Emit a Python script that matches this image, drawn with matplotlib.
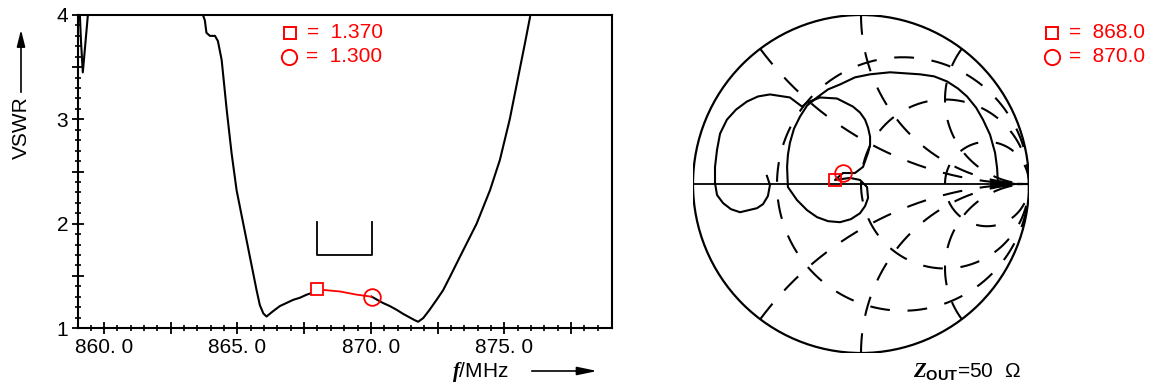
import numpy as np
import matplotlib
matplotlib.use("Agg")
import matplotlib.pyplot as plt
from matplotlib.patches import Circle

plt.rcParams['font.family'] = ['Liberation Sans', 'DejaVu Sans']
plt.rcParams['mathtext.fontset'] = 'custom'
plt.rcParams['mathtext.it'] = 'Liberation Serif:italic:bold'
plt.rcParams['mathtext.rm'] = 'Liberation Sans'
plt.rcParams['mathtext.bf'] = 'Liberation Sans:bold'

W, H = 1159, 387
RED = "#ff0000"

# VSWR ueber Frequenz
FREQ_DIP = [859.10, 859.14, 859.21, 859.30, 859.40]
VSWR_DIP = [4.00, 3.76, 3.45, 3.71, 4.00]

FREQ = [863.71, 863.78, 863.84, 863.97, 864.16, 864.27, 864.41, 864.60, 864.78,
        864.97, 865.22, 865.47, 865.72, 865.84, 865.97,
        866.09, 866.33, 866.59, 866.84, 867.09, 867.34, 867.60, 867.84, 868.00,
        868.84, 869.46, 870.03, 870.45, 870.71, 870.96, 871.21, 871.46, 871.64,
        871.77, 871.96, 872.20, 872.46, 872.70, 872.96, 873.33, 873.96, 874.46,
        874.83, 875.20, 875.52, 875.77, 875.96]
VSWR = [4.00, 3.95, 3.83, 3.80, 3.80, 3.75, 3.57, 3.09, 2.68,
        2.32, 2.00, 1.68, 1.36, 1.22, 1.14,
        1.11, 1.16, 1.21, 1.24, 1.27, 1.29, 1.32, 1.34, 1.37,
        1.35, 1.32, 1.30, 1.24, 1.21, 1.175, 1.135, 1.10, 1.075,
        1.06, 1.095, 1.175, 1.27, 1.36, 1.49, 1.68, 2.00, 2.32,
        2.61, 3.00, 3.41, 3.73, 3.98]
MARK_F = [868.0, 870.03]
MARK_V = [1.37, 1.30]
BRACKET_F = [868.0, 870.03]
BRACKET_V = [2.02, 1.70]

X_TICKS = [860, 862.5, 865, 867.5, 870, 872.5, 875, 877.5]
X_LABELS = ["860. 0", "", "865. 0", "", "870. 0", "", "875. 0", ""]
Y_TICKS = [1, 1.5, 2, 2.5, 3, 3.5, 4]
Y_LABELS = ["1", "", "2", "", "3", "", "4"]

# Smith-Diagramm: Gitter und Ortskurve (Reflexionsfaktor)
R_CIRCLES = [1/3, 1, 3]
X_ARCS = [0.5, 1, 2, -0.5, -1, -2]

GAMMA_RE = [0.815, 0.810, 0.798, 0.768, 0.726, 0.685, 0.631, 0.577, 0.512, 0.435,
            0.351, 0.173, 0.054, -0.036, -0.125, -0.196, -0.262, -0.321, -0.363,
            -0.399, -0.423, -0.435, -0.440, -0.435,
            -0.381, -0.321, -0.262, -0.196, -0.125, -0.060, -0.006, 0.024, 0.042,
            0.036, -0.006,
            -0.065, -0.155, -0.107, -0.036, 0.012,
            0.042, 0.054, 0.054, 0.042, 0.024, -0.006, -0.048, -0.143, -0.244,
            -0.321, -0.351,
            -0.423, -0.542, -0.613, -0.679, -0.744, -0.798, -0.839, -0.857,
            -0.869, -0.869, -0.857, -0.821, -0.774, -0.720, -0.619, -0.583,
            -0.554, -0.542, -0.560]
GAMMA_IM = [0.006, 0.095, 0.185, 0.292, 0.381, 0.452, 0.518, 0.565, 0.607, 0.637,
            0.649, 0.661, 0.649, 0.631, 0.589, 0.560, 0.512, 0.464, 0.399,
            0.327, 0.244, 0.173, 0.101, -0.018,
            -0.095, -0.155, -0.196, -0.220, -0.226, -0.208, -0.173, -0.131, -0.083,
            -0.018, 0.024,
            0.036, 0.024, 0.065, 0.065, 0.101,
            0.185, 0.232, 0.280, 0.333, 0.381, 0.423, 0.458, 0.506, 0.512,
            0.482, 0.458,
            0.512, 0.530, 0.518, 0.488, 0.440, 0.381, 0.298, 0.202,
            0.101, 0.006, -0.065, -0.113, -0.149, -0.167, -0.143, -0.119,
            -0.071, -0.006, 0.048]
SQ_IDX = 36
CI_IDX = 37

fig = plt.figure(figsize=(W / 100, H / 100), dpi=100)

def fx(px):
    return px / W

def fy(py):
    return 1 - py / H

def legend_row(x, y, marker, ms, text):
    fig.add_artist(plt.Line2D([fx(x)], [fy(y)], marker=marker, ms=ms, mfc="none",
                              mec=RED, mew=1.4, ls="none"))
    fig.text(fx(x + 17), fy(y), text, color=RED, fontsize=15, va="center")

# ---------- linkes Diagramm: VSWR ----------
ax = fig.add_axes([fx(78), fy(328), fx(612) - fx(78), fy(15) - fy(328)])
ax.plot(FREQ_DIP, VSWR_DIP, color="black", lw=1.5)
i0, i1 = FREQ.index(868.0), FREQ.index(870.03)
ax.plot(FREQ[:i0 + 1], VSWR[:i0 + 1], color="black", lw=1.5)
ax.plot(FREQ[i1:], VSWR[i1:], color="black", lw=1.5)
ax.plot(FREQ[i0:i1 + 1], VSWR[i0:i1 + 1], color=RED, lw=1.3)
ax.plot(MARK_F[0], MARK_V[0], marker="s", ms=8.5, mfc="white", mec=RED, mew=1.3)
ax.plot(MARK_F[1], MARK_V[1], marker="o", ms=12, mfc="none", mec=RED, mew=1.3)
ax.plot([BRACKET_F[0], BRACKET_F[0], BRACKET_F[1], BRACKET_F[1]],
        [BRACKET_V[0], BRACKET_V[1], BRACKET_V[1], BRACKET_V[0]],
        color="black", lw=1.3)

ax.set_xlim(859.03, 879.03)
ax.set_ylim(1, 4)
ax.set_xticks(X_TICKS)
ax.set_xticklabels(X_LABELS)
ax.set_xticks(np.arange(859.5, 879, 0.5), minor=True)
ax.set_yticks(Y_TICKS)
ax.set_yticklabels(Y_LABELS)
ax.set_yticks(np.arange(1.1, 4.0, 0.1), minor=True)
ax.tick_params(which="major", direction="inout", length=8, width=1.3,
               labelsize=15, pad=3)
ax.tick_params(which="minor", direction="inout", length=5, width=1.2)
for s in ax.spines.values():
    s.set_linewidth(1.5)

legend_row(290, 33, "s", 8, "=  1.370")
legend_row(289, 57, "o", 11, "=  1.300")

fig.text(fx(21), fy(128), "VSWR", rotation=90, fontsize=15, ha="center", va="center")
fig.add_artist(plt.Line2D([fx(21), fx(21)], [fy(92), fy(40)], color="black", lw=1.2))
ax.annotate("", xy=(fx(21), fy(27)), xytext=(fx(21), fy(45)), xycoords="figure fraction",
            arrowprops=dict(arrowstyle="-|>,head_length=1.0,head_width=0.25",
                            color="black", lw=1.2, mutation_scale=10))

fig.text(fx(452), fy(372), "$f$/MHz", fontsize=15, ha="left", va="center")
fig.add_artist(plt.Line2D([fx(532), fx(585)], [fy(371), fy(371)], color="black", lw=1.2))
ax.annotate("", xy=(fx(600), fy(371)), xytext=(fx(580), fy(371)), xycoords="figure fraction",
            arrowprops=dict(arrowstyle="-|>,head_length=1.2,head_width=0.25",
                            color="black", lw=1.2, mutation_scale=10))

# ---------- rechtes Diagramm: Smith ----------
sx = fig.add_axes([fx(693), fy(353), fx(1029) - fx(693), fy(15) - fy(353)])
sx.set_xlim(-1, 1)
sx.set_ylim(-1, 1)
sx.axis("off")

dash = (0, (9.5, 8.5))
t = np.linspace(0, 2 * np.pi, 600)
for r in R_CIRCLES:
    c, rad = r / (1 + r), 1 / (1 + r)
    sx.plot(c + rad * np.cos(t), rad * np.sin(t), color="black", lw=1.5,
            linestyle=dash)
rr = np.tan(np.linspace(0, np.pi / 2 - 1e-3, 800))
for xv in X_ARCS:
    z = rr + 1j * xv
    g = (z - 1) / (z + 1)
    sx.plot(g.real, g.imag, color="black", lw=1.5, linestyle=dash)

sx.add_patch(Circle((0, 0), 1, fill=False, lw=1.6, color="black"))
sx.plot([-1, 1], [0, 0], color="black", lw=1.3)
sx.annotate("", xy=(0.975, 0), xytext=(0.80, 0),
            arrowprops=dict(arrowstyle="-|>,head_length=1.8,head_width=0.28",
                            color="black", lw=1.3, mutation_scale=10))

sx.plot(GAMMA_RE, GAMMA_IM, color="black", lw=1.5)
sx.plot(GAMMA_RE[SQ_IDX], GAMMA_IM[SQ_IDX], marker="s", ms=8.5, mfc="none",
        mec=RED, mew=1.3)
sx.plot(GAMMA_RE[CI_IDX], GAMMA_IM[CI_IDX], marker="o", ms=12, mfc="none",
        mec=RED, mew=1.3)

legend_row(1052, 33, "s", 8, "=  868.0")
legend_row(1052, 57, "o", 11, "=  870.0")
fig.text(fx(913), fy(372), r"$Z_{\mathbf{OUT}}$=50  Ω", fontsize=15, ha="left",
         va="center")

fig.savefig("out.png", dpi=100)
